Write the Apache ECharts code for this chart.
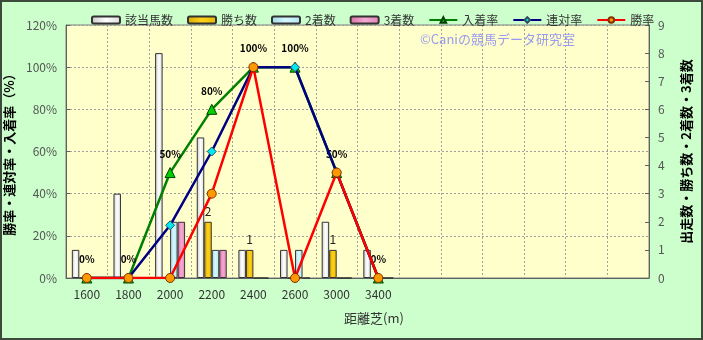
<!DOCTYPE html>
<html>
<head>
<meta charset="utf-8">
<script src="https://cdn.jsdelivr.net/npm/echarts@6/dist/echarts.min.js"></script>
<style>
  html, body { margin: 0; padding: 0; background: #ccffcc; }
  #chart { width: 703px; height: 340px; }
</style>
</head>
<body>
<div id="chart"></div>
<script>
// 距離別成績（芝）
const 距離 = ["1600", "1800", "2000", "2200", "2400", "2600", "3000", "3400", "", "", "", "", "", ""];
const 該当馬数 = [1, 3, 8, 5, 1, 1, 2, 1];
const 勝ち数 = [0, 0, 0, 2, 1, 0, 1, 0];
const 二着数 = [0, 0, 2, 1, 0, 1, 0, 0];
const 三着数 = [0, 0, 2, 1, 0, 0, 0, 0];
const 入着率 = [0, 0, 50, 80, 100, 100, 50, 0];
const 連対率 = [0, 0, 25, 60, 100, 100, 50, 0];
const 勝率 = [0, 0, 0, 40, 100, 0, 50, 0];

const 字体 = "'Noto Sans CJK JP', 'Noto Sans', sans-serif";
const 棒枠 = { borderColor: "#333", borderWidth: 1 };

function 横グラデ(c1, c2, c3) {
  return new echarts.graphic.LinearGradient(0, 0, 1, 0, [
    { offset: 0, color: c1 },
    { offset: 0.5, color: c2 },
    { offset: 1, color: c3 },
  ]);
}

const myChart = echarts.init(document.getElementById("chart"));

const option = {
  backgroundColor: "#ccffcc",
  textStyle: { fontFamily: 字体 },
  animation: false,
  legend: {
    left: 86,
    top: 9,
    itemWidth: 28,
    itemHeight: 7,
    itemGap: 14,
    textStyle: { fontSize: 12, color: "#333", fontFamily: 字体 },
    data: ["該当馬数", "勝ち数", "2着数", "3着数", "入着率", "連対率", "勝率"],
  },
  graphic: [
    {
      type: "rect",
      shape: { x: 1, y: 1, width: 701, height: 338 },
      style: { fill: "none", stroke: "#3c4a3c", lineWidth: 2 },
      z: 100,
    },
    {
      type: "text",
      left: 420,
      top: 33,
      style: {
        text: "©Caniの競馬データ研究室",
        fill: "#9a9aee",
        fontSize: 13,
        fontFamily: 字体,
      },
      z: 50,
    },
  ],
  grid: {
    left: 66,
    right: 54,
    top: 25,
    bottom: 62,
    outerBoundsMode: "none",
    containLabel: false,
    show: true,
    backgroundColor: "#ffffcc",
    borderColor: "#808080",
    borderWidth: 1,
  },
  xAxis: {
    type: "category",
    data: 距離,
    boundaryGap: true,
    name: "距離芝(m)",
    nameLocation: "middle",
    nameGap: 34,
    nameTextStyle: { fontSize: 13, color: "#333", padding: [0, 0, 0, 33] },
    axisLine: { lineStyle: { color: "#606060" } },
    axisTick: { show: false },
    axisLabel: { interval: 0, color: "#333", fontSize: 12, margin: 10 },
    splitLine: { show: true, lineStyle: { color: "#a0a0a0", type: [2, 2] } },
  },
  yAxis: [
    {
      type: "value",
      min: 0,
      max: 120,
      interval: 20,
      name: "勝率・連対率・入着率（%）",
      nameLocation: "middle",
      nameGap: 37,
      nameTextStyle: { fontSize: 13, fontWeight: "bold", color: "#000" },
      axisLine: { show: true, lineStyle: { color: "#606060" } },
      axisTick: { show: true, inside: true, length: 4, lineStyle: { color: "#606060" } },
      axisLabel: { formatter: "{value}%", color: "#555", fontSize: 12, margin: 9 },
      splitLine: { show: true, lineStyle: { color: "#a0a0a0", type: [2, 2] } },
    },
    {
      type: "value",
      min: 0,
      max: 9,
      interval: 1,
      name: "出走数・勝ち数・2着数・3着数",
      nameLocation: "middle",
      nameRotate: 90,
      nameGap: 31,
      nameTextStyle: { fontSize: 13, fontWeight: "bold", color: "#000" },
      axisLine: { show: true, lineStyle: { color: "#606060" } },
      axisTick: { show: true, inside: true, length: 4, lineStyle: { color: "#606060" } },
      axisLabel: { color: "#555", fontSize: 12, margin: 9 },
      splitLine: { show: false },
    },
  ],
  series: [
    {
      name: "該当馬数",
      type: "bar",
      yAxisIndex: 1,
      data: 該当馬数,
      barGap: "0%",
      barCategoryGap: "28%",
      itemStyle: Object.assign({ color: 横グラデ("#c8c8c8", "#ffffff", "#dcdcdc") }, 棒枠),
    },
    {
      name: "勝ち数",
      type: "bar",
      yAxisIndex: 1,
      data: 勝ち数,
      itemStyle: Object.assign({ color: 横グラデ("#d9a800", "#ffd21a", "#e6b800") }, 棒枠),
      label: {
        show: true,
        position: "top",
        distance: 4,
        color: "#222",
        fontSize: 12,
        formatter: (p) => (p.value > 0 ? p.value : ""),
      },
    },
    {
      name: "2着数",
      type: "bar",
      yAxisIndex: 1,
      data: 二着数,
      itemStyle: Object.assign({ color: 横グラデ("#9fdbe8", "#d6f7ff", "#b0e6f0") }, 棒枠),
    },
    {
      name: "3着数",
      type: "bar",
      yAxisIndex: 1,
      data: 三着数,
      itemStyle: Object.assign({ color: 横グラデ("#d870a8", "#f4a8d2", "#e088b8") }, 棒枠),
    },
    {
      name: "入着率",
      type: "line",
      yAxisIndex: 0,
      data: 入着率,
      symbol: "triangle",
      symbolSize: 10,
      lineStyle: { color: "#008000", width: 2.5 },
      itemStyle: { color: "#00d000", borderColor: "#004000", borderWidth: 1 },
      label: {
        show: true,
        position: "top",
        distance: 8,
        color: "#000",
        fontSize: 10,
        fontWeight: "bold",
        formatter: "{c}%",
      },
      z: 3,
    },
    {
      name: "連対率",
      type: "line",
      yAxisIndex: 0,
      data: 連対率,
      symbol: "diamond",
      symbolSize: 9,
      lineStyle: { color: "#000080", width: 2.5 },
      itemStyle: { color: "#00e8f0", borderColor: "#305060", borderWidth: 1 },
      z: 4,
    },
    {
      name: "勝率",
      type: "line",
      yAxisIndex: 0,
      data: 勝率,
      symbol: "circle",
      symbolSize: 9,
      lineStyle: { color: "#ff0000", width: 2.5 },
      itemStyle: { color: "#ff9900", borderColor: "#803000", borderWidth: 1 },
      z: 5,
    },
  ],
};

myChart.setOption(option);
</script>
</body>
</html>
